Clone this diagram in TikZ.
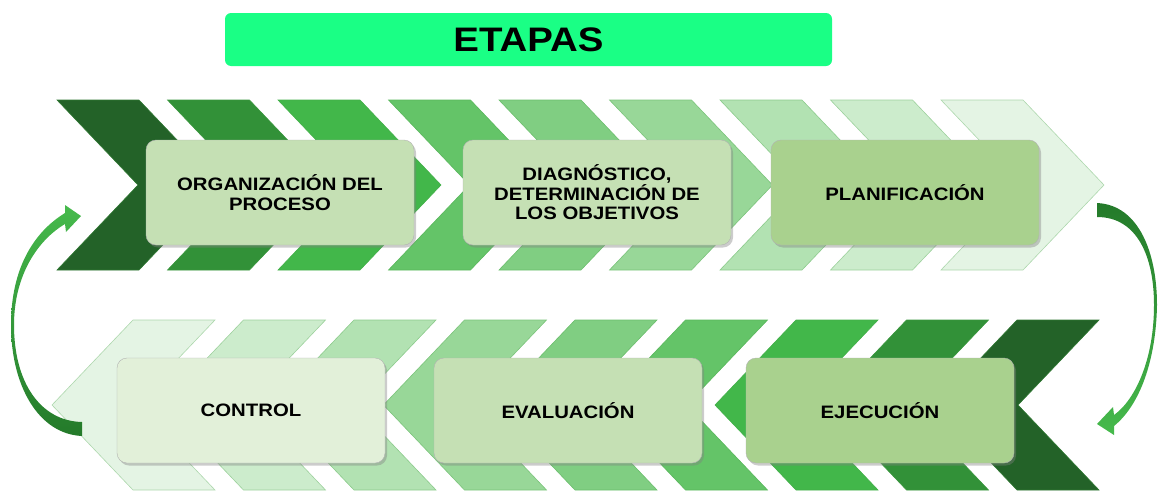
\documentclass[tikz,border=0pt]{standalone}
\usepackage{fontspec}
\setmainfont{Liberation Sans}[FakeStretch=1.13]
\usetikzlibrary{shadows}

% chevron shades, darkest first
\definecolor{ch0}{RGB}{35,98,40}
\definecolor{ch1}{RGB}{50,145,56}
\definecolor{ch2}{RGB}{66,183,74}
\definecolor{ch3}{RGB}{100,196,104}
\definecolor{ch4}{RGB}{128,206,130}
\definecolor{ch5}{RGB}{152,215,152}
\definecolor{ch6}{RGB}{178,226,178}
\definecolor{ch7}{RGB}{204,236,204}
\definecolor{ch8}{RGB}{228,244,228}
\definecolor{chedge}{RGB}{70,160,70}
\definecolor{tint80}{RGB}{226,240,217}
\definecolor{tint60}{RGB}{197,224,180}
\definecolor{tint40}{RGB}{169,209,142}
\definecolor{titlegreen}{RGB}{26,255,133}
\definecolor{arrlight}{RGB}{70,186,76}
\definecolor{arrdark}{RGB}{36,122,42}

\begin{document}
\begin{tikzpicture}[
          x=1pt, y=-1pt,
          stage/.style={draw=black!30, rounded corners=10pt, align=center,
            minimum width=268pt, minimum height=105pt,
            font=\fontsize{18}{19.5}\selectfont\bfseries,
            drop shadow={shadow xshift=2pt, shadow yshift=-2.5pt, opacity=0.4}},
          heading/.style={fill=titlegreen, rounded corners=6pt,
            minimum width=607pt, minimum height=53pt,
            font=\fontsize{34}{38}\selectfont\bfseries},
          returnarrow/.style={line width=0pt}
        ]
        \useasboundingbox (0,0) rectangle (1159,490);

        % upper band, pointing right
        \foreach \i in {0,...,8} {
          \pgfmathsetmacro\xa{57+110.5*\i}
          \filldraw[fill=ch\i, draw=ch\i!65!chedge, line width=0.6pt]
            (\xa,100) -- ++(82,0) -- ++(81,85) -- ++(-81,85) -- ++(-82,0) -- ++(81,-85) -- cycle;
        }

        % lower band, pointing left
        \foreach \j in {0,...,8} {
          \pgfmathsetmacro\xt{52+110.5*\j}
          \pgfmathtruncatemacro\k{8-\j}
          \filldraw[fill=ch\k, draw=ch\k!65!chedge, line width=0.6pt]
            (\xt,405) -- ++(81,-85) -- ++(82,0) -- ++(-81,85) -- ++(81,85) -- ++(-82,0) -- cycle;
        }

        \node[heading] (title) at (528.5,39.5) {ETAPAS};

        \node[stage, fill=tint60] (org) at (280,192.5) {ORGANIZACIÓN DEL\\PROCESO};
        \node[stage, fill=tint60] (diag) at (597,192.5) {DIAGNÓSTICO,\\DETERMINACIÓN DE\\LOS OBJETIVOS};
        \node[stage, fill=tint40] (plan) at (905,192.5) {PLANIFICACIÓN};

        \node[stage, fill=tint80] (ctrl) at (251,410.5) {CONTROL};
        \node[stage, fill=tint60] (eval) at (568,410.5) {EVALUACIÓN};
        \node[stage, fill=tint40] (ejec) at (880,410.5) {EJECUCIÓN};

        % curved return arrows
        \shade[returnarrow, top color=arrdark, bottom color=arrlight]
          (1097,203) .. controls (1140,205) and (1157,255) .. (1157,305)
          .. controls (1156,360) and (1140,405) .. (1114,426)
          -- (1114,435) -- (1097,424) -- (1113,407) -- (1114,415)
          .. controls (1135,400) and (1154,360) .. (1154,305)
          .. controls (1154,258) and (1138,217) .. (1097,217) -- cycle;
        \shade[returnarrow, top color=arrlight, bottom color=arrdark]
          (82,436) .. controls (38,434) and (11,385) .. (11,325)
          .. controls (11,268) and (34,232) .. (65,213)
          -- (65,205) -- (81,216) -- (66,232) -- (65,224)
          .. controls (38,240) and (14,275) .. (14,325)
          .. controls (14,382) and (40,421) .. (82,422) -- cycle;
        \end{tikzpicture}
\end{document}
